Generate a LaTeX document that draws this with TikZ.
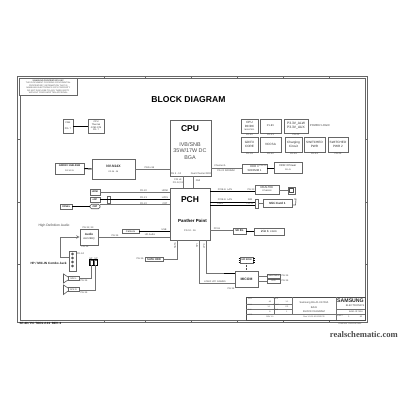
\documentclass[tikz,border=0pt]{standalone}
\usepackage{fontspec}
\setmainfont{Liberation Sans}
\newfontfamily\wmfont{Liberation Serif}
\newcommand{\fz}[1]{\fontsize{#1}{#1}\selectfont\baselineskip=1.15\baselineskip}
\tikzset{
  bx/.style={draw=black!60,line width=.6pt,fill=white,inner sep=0pt,align=center,font=\fz{2.6},text=black!85},
  lbl/.style={inner sep=0pt,font=\fz{2.4},text=black!75,align=center},
  wire/.style={draw=black!55,line width=.6pt},
  bus/.style={draw=black,line width=1pt},
  tick/.style={draw=black!60,line width=.4pt},
}
\newcommand{\bx}[7][]{%
  \pgfmathsetmacro{\bxcx}{(#3+#5)/2}\pgfmathsetmacro{\bxcy}{(#4+#6)/2}%
  \pgfmathsetmacro{\bxw}{#5-#3}\pgfmathsetmacro{\bxh}{#6-#4}%
  \node[bx,minimum width=\bxw pt,minimum height=\bxh pt,#1] (#2) at (\bxcx,\bxcy) {#7};}
\begin{document}
\begin{tikzpicture}[x=1pt,y=-1pt]
\useasboundingbox (0,0) rectangle (400,400);
% frame
\draw[draw=black!60,line width=.7pt] (17.5,76) rectangle (367,322);
\draw[draw=black!60,line width=.6pt] (20,78) rectangle (365,320);
\foreach \tx in {104,145,191,237,283,329}{
  \draw[tick] (\tx,76) -- (\tx,78); \draw[tick] (\tx,320) -- (\tx,322);}
\foreach \ty in {139,202,264}{
  \draw[tick] (17.5,\ty) -- (20,\ty); \draw[tick] (365,\ty) -- (367,\ty);}
% title and keys
\node[inner sep=0pt,font=\fz{8.6}\bfseries] (title) at (188.5,100) {BLOCK DIAGRAM};
\bx[font=\fz{2.1},text=black!70]{key}{19.5}{78.5}{77}{95}{\textbf{SAMSUNG PROPRIETARY KEY}\\THIS DOCUMENT CONTAINS CONFIDENTIAL\\PROPRIETARY INFORMATION THAT IS\\SAMSUNG ELECTRONICS CO'S PROPERTY\\DO NOT DISCLOSE TO ANY THIRD PARTY\\WITHOUT PRIOR WRITTEN APPROVAL}
% top-left
\bx[font=\fz{2.4}]{fan}{63}{119}{73}{133}{FAN\\[3pt]PG. 7}
\bx[font=\fz{2.3}]{sensor}{88}{119}{104}{133}{CPU\\Thermal\\G780 ST8\\PG. 7}
\draw[bus] (fan.east) -- (sensor.west);
\bx{vram}{55}{163}{84}{174}{{\fz{2.6}\bfseries GDDR3 1GB-2GB}\\[2pt]{\fz{2}PG 30-31}}
\bx{gfx}{92}{159}{135}{179}{{\fz{3.4}\bfseries NV-N14X}\\[2pt]{\fz{2}PG 26 - 29}}
\draw[bus] (vram.east) -- (gfx.west);
% CPU/PCH
\bx{cpu}{170}{120}{211}{176}{}
\node[inner sep=0pt,font=\fz{8.5}\bfseries] (cpulab) at (190,128.5) {CPU};
\node[inner sep=0pt,font=\fz{5.4},align=center,text=black!70] (cputxt) at (190,151) {IVB/SNB\\35W/17W DC\\BGA};
\node[lbl] (cpup) at (176,174) {PG 3 - 10};
\node[lbl] (cpuc) at (201,173.5) {Dual Channel DDR};
\bx{pch}{170}{188}{210}{240}{}
\node[inner sep=0pt,font=\fz{8.5}\bfseries] (pchlab) at (190,200) {PCH};
\node[inner sep=0pt,font=\fz{4.4}\bfseries] (pchtxt) at (192.5,220.5) {Panther Point};
\node[lbl] (pchp) at (190,231) {PG 12 - 16};
\coordinate (fdic) at (183,176); \coordinate (dmic) at (193,176);
\draw[wire,line width=.7pt] (fdic) -- (fdic |- pch.north);
\draw[wire,line width=.7pt] (dmic) -- (dmic |- pch.north);
\node[lbl] (fdi) at (178,181) {FDI x8\\PG 12,13};
\node[lbl] (dmi) at (198,181) {DMI};
% gfx to cpu
\draw[wire] (gfx.east |- 135,169) -- (cpu.west |- 135,169);
\node[lbl] (peg) at (149.5,167.5) {PEG x16};
% DDR
\bx[font=\fz{2.8}]{sodimm}{242}{164}{267}{173}{DDR 3\\SODIMM 1}
\bx{ddrp}{274}{162}{302}{173}{{\fz{2.7}DDR 3 Power}\\[1.5pt]{\fz{2}PG 41}}
\draw[wire] (cpu.east |- 211,168) -- (sodimm.west |- 242,168);
\draw[bus] (sodimm.east |- 267,168) -- (ddrp.west |- 274,168);
\node[lbl] (chan) at (220,166) {Channel A};
\node[lbl] (chanp) at (226,171) {PG 20 SODIMM};
\node[lbl] (sodp) at (263,165.5) {PG 20};
% power
\bx[font=\fz{3}]{cpudc}{241}{119}{258}{133}{CPU\\DC/DC\\{\fz{2}MAX17511}}
\bx{p18}{260}{119}{281}{133}{{\fz{2.6}P1.8V}}
\bx[font=\fz{3.3}]{alw}{284}{119}{308}{133}{P3.3V\_ALW\\P3.3V\_AUX}
\node[lbl,font=\fz{2.8}] (plog) at (320,126) {POWER LOGIC};
\bx[font=\fz{3.1}]{core}{241}{137}{258}{152}{GD/FX\\CORE}
\bx[font=\fz{3.1}]{vccsa}{260}{137}{281}{152}{VCCSA}
\bx[font=\fz{3.1}]{charge}{285}{137}{302}{152}{Charging\\Circuit}
\bx[font=\fz{3.1}]{pwra}{304}{137}{325}{152}{SWITCHED\\PWR}
\bx[font=\fz{3.1}]{pwrb}{328}{137}{348}{152}{SWITCHED\\PWR 2}
\foreach \px/\py/\ptxt in {249.5/134.7/PG 40,270.5/134.7/PG 41,296/134.7/PG 42,249.5/154/PG 39,270.5/154/PG 40,293.5/154/PG 45,314.5/154/PG 43,338/154/PG 44}{
  \node[lbl] at (\px,\py) {\ptxt};}
% right side I/O
\bx{realtek}{255}{185}{279}{194}{{\fz{2.8}REALTEK}\\{\fz{2}RTL8111E}}
\bx{lan}{288}{187}{295}{194}{}
\draw[draw=black!70,line width=.5pt] (289.5,188.5) rectangle (293.5,192.5);
\draw[bus] (pch.east |- 210,191) -- (realtek.west |- 255,191);
\draw[wire] (realtek.east |- 279,190) -- (lan.west |- 288,190);
\node[lbl] (pcie1) at (225,189.5) {PCIE-E\ \ LAN};
\node[lbl] (pcie1p) at (251,189.5) {PG 33};
\bx{mconn}{255}{199}{258}{208}{}
\bx{minic}{263}{199}{292}{207}{{\fz{3}\bfseries Mini Card 1}}
\draw[bus] (pch.east |- 210,202) -- (mconn.west |- 255,202);
\draw[bus] (pch.east |- 210,205) -- (mconn.west |- 255,205);
\draw[wire] (mconn.east |- 258,203) -- (minic.west |- 263,203);
\node[lbl] (pcie2) at (225,200) {PCIE-E\ \ LAN};
\node[lbl] (usb2) at (220,204) {USB2};
\node[lbl] (p2a) at (250,200) {SIM};
\node[lbl] (p2b) at (250,204) {PG 31};
\draw[wire,line width=.7pt] (294,199) -- (296,199) -- (295.5,205) -- (293,205);
\bx{sd}{233}{228}{246}{234}{{\fz{2.7}\bfseries SD 8G}}
\bx{cardr}{254}{228}{284}{235}{{\fz{3}\bfseries 2 in 1}\ \ {\fz{2.4}CARD}}
\draw[wire] (pch.east |- 210,230.5) -- (sd.west |- 233,230.5);
\draw[bus] (sd.east |- 246,231) -- (cardr.west |- 254,231);
\node[lbl] (sdl) at (217,228.5) {PCI-E};
% MICOM
\bx{spi}{240}{257}{253}{263}{{\fz{2.4}\bfseries SPI ROM}}
\bx{micom}{235}{271}{258}{287}{{\fz{3.4}\bfseries MICOM}}
\foreach \sy in {258.5,260.5,262}{
  \draw[draw=black,line width=.6pt] (238.5,\sy) -- (240,\sy);
  \draw[draw=black,line width=.6pt] (253,\sy) -- (254.5,\sy);}
\draw[draw=black!70,line width=.5pt,densely dotted] (spi.south) -- (spi.south |- micom.north);
\coordinate (spiout) at (199,240); \coordinate (lpcout) at (206,240);
\draw[wire,line width=.7pt] (lpcout) -- (206,273.5) -- (micom.west |- 235,273.5);
\draw[bus] (224,273.5) -- (micom.west |- 235,273.5);
\draw[wire,line width=.7pt] (spiout) -- (199,283) -- (micom.west |- 235,283);
\bx{ma}{267}{274}{280}{278}{{\fz{2}Power Button}}
\bx{mb}{267}{279}{280}{283}{{\fz{2}LED}}
\draw[wire] (micom.east |- 258,276) -- (ma.west);
\draw[wire] (micom.east |- 258,281) -- (mb.west);
\node[lbl] (map) at (285,276) {PG 34};
\node[lbl] (mbp) at (285,281) {PG 34};
\node[lbl,rotate=90] (spil) at (197,246) {SPI};
\node[lbl,rotate=90] (lpcv) at (204,246) {LPC};
\node[lbl] (logo) at (215,282) {LOGO LPC GAMES};
\node[lbl] (micp) at (231,289) {PG 34};
% left I/O
\bx{hdmi}{90}{189}{100}{195}{{\fz{2.4}\bfseries HDMI}}
\bx{edp}{90}{197}{100}{202.5}{{\fz{2.4}\bfseries eDP}}
\bx{econn}{107.5}{196}{110}{203}{}
\node[draw=black!70,line width=.6pt,fill=white,rounded corners=1.5pt,inner sep=0pt,minimum width=10pt,minimum height=4.5pt,font=\fz{2.4}\bfseries] (crt) at (95,206.5) {CRT};
\bx{panel}{60.5}{204}{72}{209}{{\fz{2.4}\bfseries PANEL}}
\draw[wire] (hdmi.east) -- (pch.west |- 100,192);
\draw[bus] (edp.east |- 100,199.5) -- (pch.west |- 100,199.5);
\draw[wire] (crt.east |- 100,204.5) -- (pch.west |- 100,204.5);
\draw[bus] (panel.east) -- (crt.west);
\foreach \qx/\qy/\qt in {143.5/191/PG 20,165/191/HDMI,143.5/197.5/PG 21,165/197.5/LVDS,143.5/203.5/PG 22,165/203.5/CRT}{
  \node[lbl] at (\qx,\qy) {\qt};}
\bx{audio}{80}{229}{98}{245}{{\fz{3}\bfseries Audio}\\[1pt]{\fz{2.6}ALC269Q}}
\bx{camera}{122}{229}{139}{233.5}{{\fz{2.6}Camera}}
\draw[bus] (camera.east |- 139,231) -- (pch.west |- 139,231);
\draw[wire] (audio.east |- 98,237) -- (pch.west |- 98,237);
\node[lbl] (ven) at (88,227.5) {PG 32, 33};
\node[lbl] (aup) at (85,247) {PG 34};
\node[lbl] (aul) at (115,236) {PG 34};
\node[lbl] (hda) at (150,235) {HD Audio};
\node[lbl] (usbc) at (164,230) {USB};
\node[lbl,font=\fz{3.3},text=black!75] (hdlab) at (54,226) {High Definition Audio};
\bx{jack}{69}{251}{76}{271}{}
\foreach \jy in {254,258,262,266}{\draw[draw=black!80,line width=.5pt] (72.5,\jy) circle (1pt);}
\draw[wire,line width=.6pt,->,>=stealth] (60,257) -- (60,237) -- (audio.west |- 80,237);
\draw[wire,line width=.6pt] (60,257) -- (jack.west |- 69,257);
\node[lbl] (jackp) at (80.5,253.5) {PG 34};
\node[lbl,font=\fz{3.1}\bfseries,text=black!90] (hplab) at (48.5,263) {HP / MIC-IN Combo Jack};
\bx{ca}{90}{260}{93}{265}{}
\bx{cb}{94}{260}{97}{265}{}
\draw[bus,line width=1pt] (ca.north west) rectangle (ca.south east);
\draw[bus,line width=1pt] (cb.north west) rectangle (cb.south east);
\node[lbl] (cal) at (91,258.5) {SP};
\node[lbl] (cbl) at (96,258.5) {SP};
\bx{spka}{68}{276.5}{79}{280.5}{{\fz{2.2}SPK L}}
\bx{spkb}{68}{287.5}{79}{291.5}{{\fz{2.2}SPK R}}
\draw[draw=black!65,line width=.6pt] (68,277) -- (63.5,274) -- (63.5,283) -- (68,280);
\draw[draw=black!65,line width=.6pt] (68,288) -- (63.5,285) -- (63.5,294.5) -- (68,291);
\draw[wire] (ca.south) -- (91.5,278) -- (spka.east |- 79,278);
\draw[wire] (cb.south) -- (95.5,290) -- (spkb.east |- 79,290);
\node[lbl] (spap) at (84,280.5) {PG 34};
\node[lbl] (spbp) at (84,292.5) {PG 34};
% SATA
\bx{sata}{145}{257}{163}{261.5}{{\fz{2.7}\bfseries SATA HDD}}
\draw[wire] (sata.east) -- (177,259.25) -- (177,240);
\node[lbl] (satap) at (140,259) {PG 36};
\node[lbl,rotate=90] (satav) at (175,246) {SATA};
% title block
\draw[draw=black!70,line width=.6pt] (246,297) rectangle (365,320);
\draw[wire] (274,297) -- (274,314);
\draw[wire] (292,297) -- (292,314);
\draw[wire] (336,297) -- (336,320);
\draw[wire] (246,304) -- (292,304);
\draw[wire] (246,309) -- (292,309);
\draw[wire] (246,314) -- (365,314);
\draw[wire] (336,309) -- (365,309);
\foreach \rx/\ry/\rt in {250/298.5/SIZE,250/305/DWN,250/310/CHK,250/315/APPR,276/298.5/DATE,276/305/SCALE,276/310/DWG,340/315.5/SHEET}{
  \node[lbl,font=\fz{1.7}] at (\rx,\ry) {\rt};}
\foreach \rx/\ry/\rt in {270/302/A3,269/307/1:1,270/312/B,270/317/REV 1.0,287/302/1-1,287/307/PG,287/312/1}{
  \node[lbl,font=\fz{1.9}] at (\rx,\ry) {\rt};}
\node[lbl,font=\fz{2.6}] (tb1) at (314,303) {Samsung BA-41-01743A};
\node[lbl,font=\fz{2.6}] (tb2) at (314,308) {BA41};
\node[lbl,font=\fz{2.6}] (tb3) at (314,311.5) {BLOCK DIAGRAM};
\node[lbl,font=\fz{2}] (tb4) at (314,317) {Rev 1.0 01-10-2012 PR};
\node[inner sep=0pt,font=\fz{5.2}\bfseries,text=black!85] (tb5) at (350.5,301) {SAMSUNG};
\node[lbl,font=\fz{2.6}] (tb6) at (355,306) {ELECTRONICS};
\node[lbl,font=\fz{2.2}] (tb7) at (356,312) {BA41-01743A};
\node[lbl,font=\fz{2.2}] (tb8) at (349,317) {1};
\node[lbl,font=\fz{2.2}] (tb9) at (361,317) {61};
\node[lbl,font=\fz{1.9}] (tb10) at (350,323.5) {COMPANY PROPRIETARY};
\node[inner sep=0pt,font=\fz{3}\bfseries,anchor=west] (foot) at (19.5,323.5) {SF-20 / PC TOOL 2.31\ \ REV. 2};
\node[inner sep=0pt,font={\wmfont\fz{8.6}\bfseries},text=black!70,anchor=east] (wm) at (398,334.5) {realschematic.com};
\end{tikzpicture}
\end{document}
